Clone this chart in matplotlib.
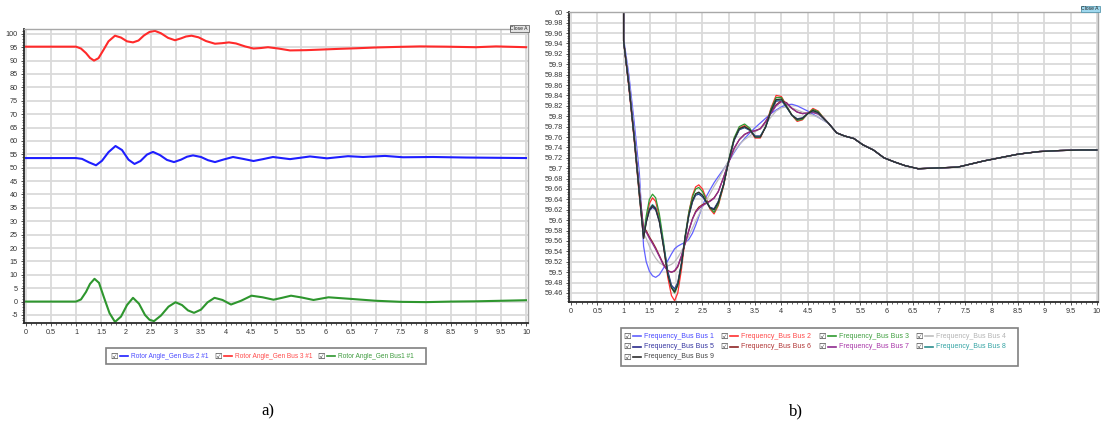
import matplotlib
matplotlib.use('Agg')
import matplotlib.pyplot as plt
from matplotlib.lines import Line2D
from matplotlib.patches import Rectangle
from matplotlib.ticker import MultipleLocator, FuncFormatter

# ---------------- dados a) angulo do rotor ----------------
t_bus3 = [0, 1.0, 1.1, 1.2, 1.28, 1.36, 1.45, 1.55, 1.65, 1.78, 1.9, 2.02, 2.14, 2.25, 2.36, 2.47,
          2.58, 2.7, 2.84, 2.98, 3.1, 3.2, 3.31, 3.45, 3.6, 3.78, 3.92, 4.06, 4.2, 4.38, 4.55, 4.7,
          4.84, 5.05, 5.28, 5.6, 5.88, 6.28, 6.6, 7.0, 7.4, 7.88, 8.4, 9.0, 9.4, 10.0]
ang_bus3 = [95.2, 95.2, 94.5, 92.8, 91.0, 90.0, 90.9, 94.0, 97.2, 99.3, 98.6, 97.2, 96.8, 97.5, 99.4, 100.7,
            101.1, 100.2, 98.5, 97.6, 98.3, 99.0, 99.3, 98.7, 97.3, 96.3, 96.5, 96.8, 96.4, 95.3, 94.5, 94.7,
            95.0, 94.5, 93.8, 93.9, 94.1, 94.4, 94.6, 94.9, 95.1, 95.3, 95.2, 95.0, 95.3, 95.0]

t_bus2 = [0, 1.0, 1.12, 1.26, 1.40, 1.52, 1.65, 1.79, 1.92, 2.05, 2.17, 2.29, 2.42, 2.54, 2.68, 2.82,
          2.96, 3.1, 3.22, 3.34, 3.5, 3.64, 3.78, 3.96, 4.14, 4.34, 4.55, 4.74, 4.94, 5.28, 5.68, 6.02,
          6.44, 6.74, 7.18, 7.54, 8.14, 8.8, 9.4, 10.0]
ang_bus2 = [53.6, 53.6, 53.3, 52.0, 50.9, 52.6, 55.8, 58.1, 56.6, 53.0, 51.4, 52.5, 54.9, 55.9, 54.7, 52.9,
            52.1, 53.0, 54.1, 54.6, 54.0, 52.8, 52.1, 53.1, 54.0, 53.3, 52.5, 53.2, 54.0, 53.2, 54.2, 53.5,
            54.3, 54.0, 54.4, 53.9, 54.0, 53.8, 53.7, 53.6]

t_bus1 = [0, 1.0, 1.1, 1.2, 1.28, 1.37, 1.46, 1.56, 1.67, 1.78, 1.9, 2.02, 2.14, 2.26, 2.38, 2.47,
          2.56, 2.7, 2.85, 2.99, 3.12, 3.24, 3.36, 3.5, 3.63, 3.77, 3.93, 4.1, 4.3, 4.51, 4.73, 4.95,
          5.12, 5.3, 5.52, 5.75, 6.05, 6.5, 7.0, 7.5, 8.0, 8.5, 9.0, 9.5, 10.0]
ang_bus1 = [0, 0, 0.8, 3.6, 6.6, 8.5, 7.0, 1.5, -4.3, -7.6, -5.6, -1.3, 1.4, -0.8, -5.0, -6.8,
            -7.3, -5.2, -1.9, -0.25, -1.3, -3.3, -4.2, -3.0, -0.3, 1.4, 0.6, -1.1, 0.3, 2.2, 1.6, 0.7,
            1.4, 2.2, 1.5, 0.6, 1.6, 1.0, 0.3, -0.1, -0.2, 0.0, 0.1, 0.3, 0.5]

# ---------------- dados b) frequencia ----------------
t_freq = [0, 1.0, 1.0, 1.1, 1.2, 1.3, 1.38, 1.43, 1.49, 1.55, 1.61, 1.68, 1.76, 1.84, 1.91, 1.97,
          2.03, 2.1, 2.17, 2.24, 2.31, 2.37, 2.43, 2.5, 2.57, 2.64, 2.72, 2.8, 2.9, 3.0, 3.1,
          3.2, 3.3, 3.4, 3.5, 3.6, 3.7, 3.8, 3.9, 4.0, 4.1, 4.2, 4.3, 4.4, 4.5, 4.6, 4.7, 4.8, 4.9]
t_cauda = [5.05, 5.2, 5.38, 5.55, 5.75, 5.95, 6.15, 6.35, 6.6, 6.85, 7.1, 7.35, 7.6, 7.85, 8.15, 8.5,
           8.9, 9.3, 9.7, 10.0]
f_cauda = [59.768, 59.762, 59.757, 59.745, 59.735, 59.72, 59.712, 59.705, 59.699, 59.700, 59.701, 59.702,
           59.708, 59.714, 59.720, 59.727, 59.732, 59.734, 59.735, 59.735]

f_bus1 = [60, 60, 59.95, 59.88, 59.79, 59.69, 59.55, 59.52, 59.502, 59.493, 59.49,
          59.495, 59.508, 59.522, 59.535, 59.545, 59.55, 59.554, 59.557, 59.563, 59.575,
          59.59, 59.607, 59.627, 59.645, 59.658, 59.672, 59.684, 59.698, 59.713, 59.73,
          59.745, 59.757, 59.768, 59.778, 59.787, 59.796, 59.805, 59.812, 59.818, 59.822,
          59.823, 59.82, 59.815, 59.81, 59.804, 59.798, 59.792, 59.786]
f_bus2 = [60, 60, 59.945, 59.855, 59.755, 59.645, 59.565, 59.60, 59.632, 59.643, 59.636,
          59.605, 59.55, 59.49, 59.455, 59.445, 59.46, 59.505, 59.565, 59.615, 59.648,
          59.664, 59.668, 59.66, 59.642, 59.622, 59.612, 59.628, 59.665, 59.715, 59.755,
          59.777, 59.782, 59.774, 59.758, 59.758, 59.78, 59.815, 59.84, 59.838, 59.82,
          59.802, 59.79, 59.793, 59.805, 59.815, 59.81, 59.797, 59.786]
f_bus3 = [60, 60, 59.945, 59.86, 59.76, 59.65, 59.57, 59.608, 59.64, 59.650, 59.643,
          59.612, 59.558, 59.50, 59.47, 59.46, 59.474, 59.515, 59.57, 59.615, 59.645,
          59.66, 59.663, 59.655, 59.64, 59.624, 59.615, 59.63, 59.667, 59.717, 59.758,
          59.78, 59.785, 59.777, 59.76, 59.76, 59.78, 59.813, 59.836, 59.836, 59.82,
          59.802, 59.792, 59.794, 59.805, 59.813, 59.809, 59.797, 59.786]
f_bus4 = [60, 60, 59.948, 59.87, 59.775, 59.67, 59.575, 59.565, 59.55, 59.537, 59.527,
          59.518, 59.513, 59.512, 59.515, 59.52, 59.528, 59.54, 59.555, 59.57, 59.585,
          59.598, 59.61, 59.625, 59.638, 59.65, 59.665, 59.678, 59.697, 59.715, 59.732,
          59.746, 59.755, 59.762, 59.77, 59.776, 59.785, 59.798, 59.81, 59.816, 59.818,
          59.816, 59.812, 59.808, 59.805, 59.802, 59.798, 59.792, 59.786]
f_bus5 = [60, 60, 59.945, 59.86, 59.765, 59.655, 59.57, 59.597, 59.618, 59.625, 59.62,
          59.597, 59.552, 59.502, 59.475, 59.468, 59.48, 59.517, 59.567, 59.608, 59.635,
          59.648, 59.65, 59.645, 59.635, 59.625, 59.622, 59.636, 59.668, 59.714, 59.753,
          59.774, 59.778, 59.773, 59.762, 59.762, 59.779, 59.808, 59.829, 59.83, 59.817,
          59.802, 59.795, 59.797, 59.805, 59.81, 59.806, 59.796, 59.786]
f_bus6 = [60, 60, 59.945, 59.86, 59.76, 59.655, 59.585, 59.58, 59.568, 59.558, 59.547,
          59.532, 59.515, 59.503, 59.5, 59.502, 59.51, 59.53, 59.555, 59.58, 59.603,
          59.617, 59.625, 59.63, 59.633, 59.637, 59.643, 59.655, 59.682, 59.712, 59.738,
          59.755, 59.765, 59.77, 59.772, 59.776, 59.79, 59.807, 59.822, 59.83, 59.826,
          59.815, 59.808, 59.805, 59.806, 59.808, 59.805, 59.797, 59.786]
f_bus7 = [60, 60, 59.945, 59.86, 59.76, 59.655, 59.58, 59.577, 59.565, 59.555, 59.544,
          59.53, 59.513, 59.502, 59.5, 59.503, 59.512, 59.532, 59.556, 59.58, 59.602,
          59.615, 59.622, 59.628, 59.632, 59.636, 59.642, 59.655, 59.682, 59.712, 59.738,
          59.755, 59.765, 59.77, 59.772, 59.776, 59.789, 59.805, 59.82, 59.828, 59.825,
          59.815, 59.808, 59.805, 59.806, 59.807, 59.804, 59.797, 59.786]
f_bus8 = [60, 60, 59.945, 59.86, 59.76, 59.65, 59.565, 59.597, 59.622, 59.63, 59.624,
          59.6, 59.55, 59.497, 59.472, 59.465, 59.478, 59.516, 59.567, 59.61, 59.637,
          59.65, 59.652, 59.647, 59.636, 59.624, 59.62, 59.635, 59.668, 59.715, 59.754,
          59.775, 59.779, 59.773, 59.761, 59.761, 59.779, 59.809, 59.831, 59.831, 59.817,
          59.802, 59.794, 59.796, 59.805, 59.81, 59.806, 59.796, 59.786]
f_bus9 = [60, 60, 59.945, 59.86, 59.76, 59.65, 59.565, 59.595, 59.62, 59.628, 59.622,
          59.597, 59.548, 59.495, 59.47, 59.462, 59.476, 59.515, 59.567, 59.61, 59.638,
          59.651, 59.654, 59.648, 59.636, 59.624, 59.62, 59.634, 59.668, 59.715, 59.755,
          59.776, 59.78, 59.774, 59.76, 59.76, 59.779, 59.81, 59.832, 59.833, 59.818,
          59.802, 59.794, 59.796, 59.805, 59.811, 59.807, 59.796, 59.786]

rotulos_ang = ['Rotor Angle_Gen Bus 2 #1', 'Rotor Angle_Gen Bus 3 #1', 'Rotor Angle_Gen Bus1 #1']
cores_ang = ['#1f1fff', '#ff2a2a', '#2e962e']
texto_ang = ['#4a4aff', '#ff4a4a', '#3c9a3c']

rotulos_freq = ['Frequency_Bus Bus 1', 'Frequency_Bus Bus 2', 'Frequency_Bus Bus 3', 'Frequency_Bus Bus 4',
                'Frequency_Bus Bus 5', 'Frequency_Bus Bus 6', 'Frequency_Bus Bus 7', 'Frequency_Bus Bus 8',
                'Frequency_Bus Bus 9']
cores_freq = ['#6060ff', '#ff3030', '#2f9a2f', '#bdbdbd', '#2b2b8c', '#8e2424', '#8e2a8e', '#2a8c8c', '#2e2e2e']
texto_freq = ['#4848ff', '#ff4848', '#40a040', '#b4b4b4', '#3434a0', '#b03434', '#a834a8', '#34a4a4', '#444444']

W, H = 1102, 428
fig = plt.figure(figsize=(W / 100, H / 100), dpi=100)


def eixo(x0, y0, x1, y1):
    return fig.add_axes([x0 / W, 1 - y1 / H, (x1 - x0) / W, (y1 - y0) / H])


def estilo(ax):
    ax.grid(True, which='major', color='#dadada', lw=1.3)
    ax.set_axisbelow(True)
    for s in ['top', 'right']:
        ax.spines[s].set_color('#a8a8a8')
        ax.spines[s].set_linewidth(1.0)
    for s in ['left', 'bottom']:
        ax.spines[s].set_color('#2a2a2a')
        ax.spines[s].set_linewidth(1.3)
    ax.tick_params(which='both', labelsize=5.2, colors='#333333', length=2.5, width=0.6, pad=2)
    ax.tick_params(which='minor', length=1.5, width=0.5)
    ax.xaxis.set_major_locator(MultipleLocator(0.5))
    ax.xaxis.set_minor_locator(MultipleLocator(0.1))
    fmt = FuncFormatter(lambda v, p: '%g' % round(v, 3))
    ax.xaxis.set_major_formatter(fmt)
    ax.yaxis.set_major_formatter(fmt)
    for lab in ax.get_xticklabels() + ax.get_yticklabels():
        lab.set_family('Liberation Sans')


def checkbox(x, y):
    fig.text(x / W, 1 - y / H, '\u2611', fontsize=6, family='DejaVu Sans', color='#333333',
             ha='center', va='center')


def legenda(itens, caixa, tam):
    x0, y0, x1, y1 = caixa
    fig.patches.append(Rectangle((x0 / W, 1 - y1 / H), (x1 - x0) / W, (y1 - y0) / H,
                                 transform=fig.transFigure, facecolor='white', edgecolor='#808080', lw=1.2))
    for xc, y, rot, cor, ctxt in itens:
        checkbox(xc, y)
        fig.lines.append(Line2D([(xc + 6) / W, (xc + 14) / W], [1 - y / H, 1 - y / H],
                                transform=fig.transFigure, color=cor, lw=1.2))
        fig.text((xc + 17) / W, 1 - y / H, rot, fontsize=tam, family='Liberation Sans', color=ctxt,
                 ha='left', va='center')


# ---------------- a) ----------------
ax1 = eixo(24, 29, 528, 323)
ax1.plot(t_bus2, ang_bus2, color=cores_ang[0], lw=1.5)
ax1.plot(t_bus3, ang_bus3, color=cores_ang[1], lw=1.5)
ax1.plot(t_bus1, ang_bus1, color=cores_ang[2], lw=1.5)
ax1.set_xlim(-0.04, 10.04)
ax1.set_ylim(-8, 101.8)
estilo(ax1)
ax1.yaxis.set_major_locator(MultipleLocator(5))
ax1.yaxis.set_minor_locator(MultipleLocator(1))

# ---------------- b) ----------------
ax2 = eixo(569, 12, 1098, 302)
serie_freq = [f_bus1, f_bus2, f_bus3, f_bus4, f_bus5, f_bus6, f_bus7, f_bus8, f_bus9]
for f, cor in zip(serie_freq, cores_freq):
    ax2.plot(t_freq + t_cauda, f + f_cauda, color=cor, lw=0.9)
ax2.set_xlim(-0.038, 10.02)
ax2.set_ylim(59.4426, 60.0005)
estilo(ax2)
ax2.yaxis.set_major_locator(MultipleLocator(0.02))
ax2.yaxis.set_minor_locator(MultipleLocator(0.005))

# legendas
xs = [114, 218, 321]
legenda([(xs[i], 356, rotulos_ang[i], cores_ang[i], texto_ang[i]) for i in range(3)],
        (106, 348, 426, 364), 4.7)

cols = [627, 724, 822, 919]
linhas = [336, 346.5, 357]
itens = []
for i in range(9):
    itens.append((cols[i % 4], linhas[i // 4], rotulos_freq[i], cores_freq[i], texto_freq[i]))
legenda(itens, (621, 328, 1018, 366), 5.0)

# botoes "Close A"
fig.text(519 / W, 1 - 28.5 / H, 'Close A', fontsize=3.6, family='Liberation Sans', ha='center', va='center',
         color='#222222', bbox=dict(boxstyle='square,pad=0.15', fc='#e4e4e4', ec='#666666', lw=0.6))
fig.text(1090 / W, 1 - 9 / H, 'Close A', fontsize=3.6, family='Liberation Sans', ha='center', va='center',
         color='#222222', bbox=dict(boxstyle='square,pad=0.15', fc='#9fd8ee', ec='#5a9ab0', lw=0.6))

# legendas das figuras
fig.text(268 / W, 1 - 411 / H, 'a)', fontsize=12, family='Liberation Serif', ha='center', va='center')
fig.text(796 / W, 1 - 411 / H, 'b)', fontsize=12, family='Liberation Serif', ha='center', va='center')

fig.savefig('out.png', dpi=100)
